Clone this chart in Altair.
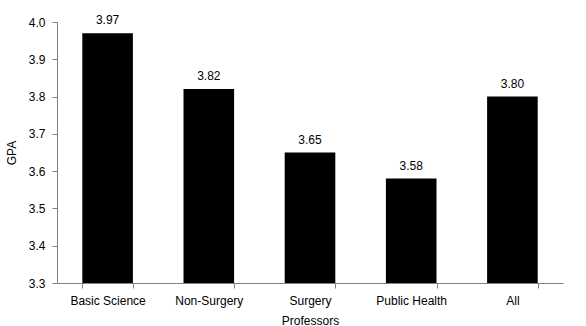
import altair as alt
import pandas as pd

categories = ["Basic Science", "Non-Surgery", "Surgery", "Public Health", "All"]
gpa = [3.97, 3.82, 3.65, 3.58, 3.80]
labels = ["3.97", "3.82", "3.65", "3.58", "3.80"]
y_ticks = [3.3, 3.4, 3.5, 3.6, 3.7, 3.8, 3.9, 4.0]

df = pd.DataFrame({"cat": categories, "gpa": gpa, "label": labels, "base": [3.3] * 5})

FONT = "Liberation Sans"
FS = 12

xscale = alt.Scale(paddingInner=0.5, paddingOuter=0.25)
yscale = alt.Scale(domain=[3.3, 4.0], zero=False, nice=False)

x = alt.X("cat:N", sort=categories, title="Professors", scale=xscale,
          axis=alt.Axis(labelAngle=0, tickBand="extent", tickSize=5, labelPadding=7,
                        titlePadding=9, domainColor="#808080", tickColor="#808080",
                        labelFont=FONT, titleFont=FONT, labelFontSize=FS, titleFontSize=FS,
                        titleFontWeight="normal", labelColor="black", titleColor="black"))

y = alt.Y("gpa:Q", title="GPA", scale=yscale,
          axis=alt.Axis(values=y_ticks, format=".1f", labelOverlap=False,
                        grid=False, tickSize=5, labelPadding=7, titlePadding=10,
                        domainColor="#808080", tickColor="#808080",
                        labelFont=FONT, titleFont=FONT, labelFontSize=FS, titleFontSize=FS,
                        titleFontWeight="normal", labelColor="black", titleColor="black"))

bars = alt.Chart(df).mark_bar(color="black").encode(x=x, y=y, y2="base:Q")
text = alt.Chart(df).mark_text(baseline="bottom", dy=-6, font=FONT, fontSize=FS, color="black").encode(
    x=x, y=y, text="label:N")

chart = (bars + text).properties(
    width=506, height=261,
    padding={"left": 57, "top": 22, "right": 23, "bottom": 43},
    autosize=alt.AutoSizeParams(type="none"),
    background="white",
).configure_view(stroke=None)

chart.save("out.html", embed_options={"renderer": "svg", "actions": False})
